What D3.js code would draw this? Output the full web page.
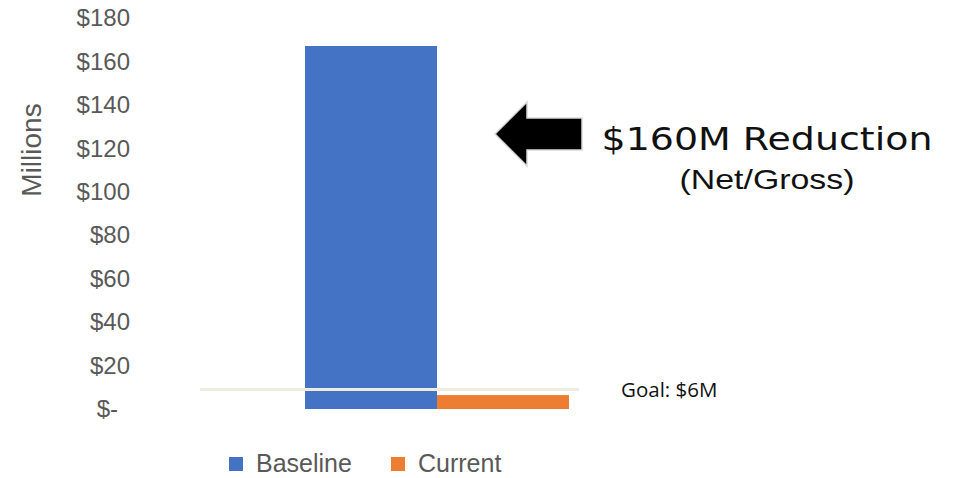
<!DOCTYPE html>
<html>
<head>
<meta charset="utf-8">
<script src="https://cdn.jsdelivr.net/npm/d3@7"></script>
<style>
body { margin: 0; background: #fff; }
text { font-family: "Liberation Sans", Arial, sans-serif; }
</style>
</head>
<body>
<div id="chart"></div>
<script>
// values (millions)
var categories = ["Total"];
var seriesNames = ["Baseline", "Current"];
var seriesValues = [167.1, 6.4];
var seriesColours = ["#4472C4", "#ED7D31"];
var yTicks = [0, 20, 40, 60, 80, 100, 120, 140, 160, 180];
var goalLineValue = 9;
var goalLabel = "Goal: $6M";
var calloutLines = ["$160M Reduction", "(Net/Gross)"];

var width = 957, height = 478;

var svg = d3.select("#chart")
.append("svg")
.attr("width", width)
.attr("height", height);

var y = d3.scaleLinear()
.domain([0, 180])
.range([409, 18]);

var x0 = d3.scaleBand()
.domain(categories)
.range([305, 569])
.padding(0);

var x1 = d3.scaleBand()
.domain(seriesNames)
.range([0, x0.bandwidth()])
.padding(0);

// y axis, labels only
var yAxis = d3.axisLeft(y)
.tickValues(yTicks)
.tickSize(0)
.tickPadding(0)
.tickFormat(function(d) {
    return d === 0 ? "$-" : "$" + d;
});

var gy = svg.append("g")
.attr("transform", "translate(130,0)")
.call(yAxis);
gy.select(".domain").remove();
gy.selectAll("text")
.attr("fill", "#595959")
.style("font-size", "24px")
.style("font-family", "'Liberation Sans', Arial, sans-serif");
// "$-" sits a bit to the left of the right edge in the reference
gy.selectAll(".tick")
.filter(function(d) { return d === 0; })
.select("text")
.attr("x", -12);

svg.append("text")
.attr("transform", "translate(41,150) rotate(-90)")
.attr("text-anchor", "middle")
.attr("fill", "#595959")
.style("font-size", "28px")
.text("Millions");

// bars
var bars = seriesNames.map(function(name, i) {
    return {name: name, value: seriesValues[i], colour: seriesColours[i]};
});

svg.append("g")
.selectAll("rect")
.data(bars)
.enter()
.append("rect")
.attr("x", function(d) { return x0(categories[0]) + x1(d.name); })
.attr("y", function(d) { return y(d.value); })
.attr("width", x1.bandwidth())
.attr("height", function(d) { return y(0) - y(d.value); })
.attr("fill", function(d) { return d.colour; });

// goal line
svg.append("line")
.attr("x1", 200)
.attr("x2", 579)
.attr("y1", y(goalLineValue))
.attr("y2", y(goalLineValue))
.attr("stroke", "#EEECE1")
.attr("stroke-width", 3);

svg.append("text")
.attr("x", 621)
.attr("y", 397)
.attr("fill", "#111")
.style("font-family", "'Open Sans', sans-serif")
.style("font-size", "20.5px")
.text(goalLabel);

// callout arrow
svg.append("path")
.attr("d", "M495,134 L527,102 L527,118 L582,118 L582,150 L527,150 L527,166 Z")
.attr("fill", "#000")
.attr("stroke", "#d9d9d9")
.attr("stroke-width", 1.5)
.attr("stroke-linejoin", "miter");

// callout text: stretched wide, like the reference
function stretchedText(str, cx, baseline, size, family, targetWidth) {
    var t = svg.append("text")
    .attr("text-anchor", "middle")
    .attr("fill", "#111")
    .style("font-family", family)
    .style("font-size", size + "px")
    .text(str);
    var w = t.node().getComputedTextLength();
    var k = targetWidth / w;
    t.attr("transform", "translate(" + cx + "," + baseline + ") scale(" + k + ",1)");
}
stretchedText(calloutLines[0], 767, 150, 32, "'DejaVu Sans', Verdana, sans-serif", 331);
stretchedText(calloutLines[1], 767, 189, 28, "'Liberation Sans', Arial, sans-serif", 175);

// legend
var legendX = [229, 391];
var legend = svg.append("g")
.selectAll("g")
.data(bars)
.enter()
.append("g")
.attr("transform", function(d, i) { return "translate(" + legendX[i] + ",457)"; });

legend.append("rect")
.attr("width", 14)
.attr("height", 14)
.attr("fill", function(d) { return d.colour; });

legend.append("text")
.attr("x", 27)
.attr("y", 15)
.attr("fill", "#595959")
.style("font-size", "25px")
.text(function(d) { return d.name; });
</script>
</body>
</html>
